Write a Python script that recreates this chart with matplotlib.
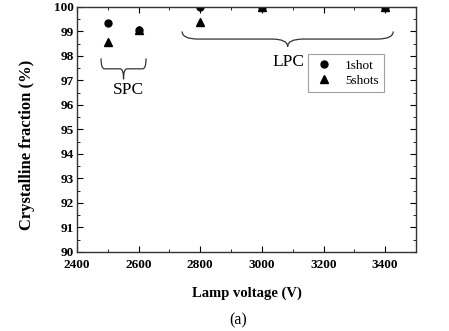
import matplotlib
matplotlib.use("Agg")
import matplotlib.pyplot as plt
from matplotlib.path import Path
from matplotlib.patches import PathPatch
from matplotlib.ticker import MultipleLocator

plt.rcParams['font.family'] = ['Liberation Serif', 'DejaVu Serif']

voltage_1shot = [2500, 2600, 2800, 3000, 3400]
frac_1shot = [99.35, 99.05, 100.0, 100.0, 100.0]
voltage_5shots = [2500, 2600, 2800, 3000, 3400]
frac_5shots = [98.55, 99.05, 99.4, 100.0, 100.0]


def brace(ax, x0, x1, y, depth, lw=0.9):
    # curly brace opening upward, tip pointing down
    xm = (x0 + x1) / 2
    h = depth / 2
    verts = [(x0, y), (x0, y - h), (x0 + (xm - x0) * 0.15, y - h),
             (xm - (xm - x0) * 0.15, y - h), (xm, y - h), (xm, y - depth),
             (xm, y - h), (xm + (x1 - xm) * 0.15, y - h),
             (x1 - (x1 - xm) * 0.15, y - h), (x1, y - h), (x1, y)]
    codes = [Path.MOVETO, Path.CURVE3, Path.CURVE3, Path.LINETO,
             Path.CURVE3, Path.CURVE3, Path.CURVE3, Path.CURVE3,
             Path.LINETO, Path.CURVE3, Path.CURVE3]
    ax.add_patch(PathPatch(Path(verts, codes), fill=False, lw=lw,
                           color='#333333', clip_on=False))


fig = plt.figure(figsize=(4.49, 3.31), dpi=100)
ax = fig.add_axes([0.1715, 0.2387, 0.755, 0.7403])

ax.plot(voltage_1shot, frac_1shot, 'o', color='black', ms=5, label='1shot')
ax.plot(voltage_5shots, frac_5shots, '^', color='black', ms=5.5, label='5shots')

ax.set_xlim(2400, 3500)
ax.set_ylim(90, 100)
ax.set_xticks([2400, 2600, 2800, 3000, 3200, 3400])
ax.set_yticks(range(90, 101))
ax.xaxis.set_minor_locator(MultipleLocator(100))
ax.yaxis.set_minor_locator(MultipleLocator(0.5))
ax.tick_params(which='both', direction='in', top=True, right=True,
               labelsize=9.5)
ax.tick_params(axis='x', pad=5)
ax.tick_params(axis='y', pad=2)
ax.tick_params(which='major', length=4)
ax.tick_params(which='minor', length=2)
for lab in ax.get_xticklabels() + ax.get_yticklabels():
    lab.set_fontweight('bold')
for s in ax.spines.values():
    s.set_linewidth(1.0)
    s.set_color('#333333')

ax.set_xlabel('Lamp voltage (V)', fontsize=10.5, fontweight='bold', labelpad=11)
ax.set_ylabel('Crystalline fraction (%)', fontsize=12, fontweight='bold',
              labelpad=5)
ax.yaxis.set_label_coords(-0.125, 0.437)

brace(ax, 2478, 2624, 97.9, 0.85)
ax.text(2566, 96.6, 'SPC', ha='center', va='center', fontsize=12.5)
brace(ax, 2741, 3426, 99.0, 0.62)
ax.text(3085, 97.75, 'LPC', ha='center', va='center', fontsize=12.5)

leg = ax.legend(loc='upper left', bbox_to_anchor=(0.681, 0.808), fontsize=9.5,
                frameon=True, fancybox=False, edgecolor='#888888',
                handletextpad=0.8, borderpad=0.4, labelspacing=0.25,
                handlelength=1.6, borderaxespad=0)
leg.get_frame().set_linewidth(0.8)

fig.text(0.530, 0.033, '(a)', ha='center', va='center', fontsize=11.5)

fig.savefig('out.png', dpi=100)
